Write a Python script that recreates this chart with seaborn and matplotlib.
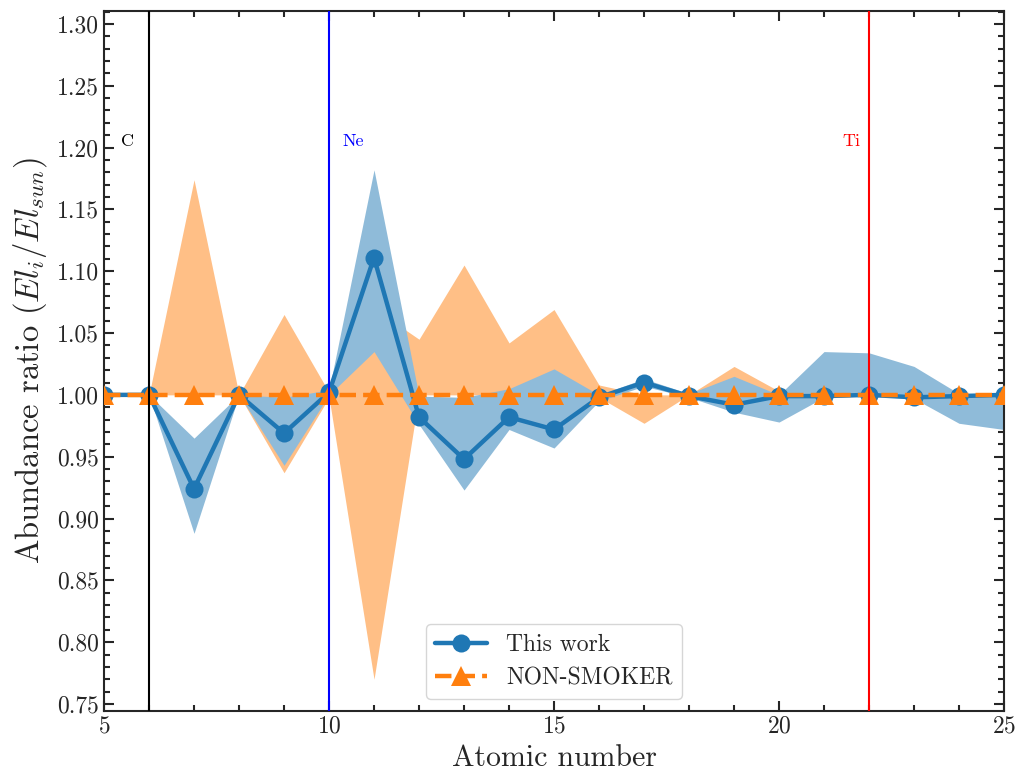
import numpy as np
import matplotlib
matplotlib.use("Agg")
import matplotlib.pyplot as plt
import seaborn as sns
from matplotlib.ticker import MultipleLocator

# atomic number
z = [5, 6, 7, 8, 9, 10, 11, 12, 13, 14, 15, 16, 17, 18, 19, 20, 21, 22, 23, 24, 25]

# this work: ratio and band
tw = [1.000, 1.000, 0.924, 1.000, 0.969, 1.002, 1.111, 0.982, 0.948, 0.982, 0.972,
      0.998, 1.010, 0.999, 0.992, 0.999, 0.999, 1.000, 0.998, 0.999, 1.000]
tw_hi = [1.000, 1.000, 0.965, 1.000, 0.998, 1.004, 1.182, 0.999, 0.998, 1.005, 1.021,
         1.000, 1.013, 1.001, 1.015, 1.000, 1.035, 1.034, 1.023, 1.001, 1.000]
tw_lo = [1.000, 1.000, 0.888, 1.000, 0.943, 1.000, 1.035, 0.976, 0.923, 0.972, 0.957,
         0.995, 1.007, 0.998, 0.986, 0.978, 0.998, 0.999, 0.997, 0.977, 0.972]

# NON-SMOKER: ratio and band
ns = [1.000, 1.000, 1.000, 1.000, 1.000, 1.000, 1.000, 1.000, 1.000, 1.000, 1.000,
      1.000, 1.000, 1.000, 1.000, 1.000, 1.000, 1.000, 1.000, 1.000, 1.000]
ns_hi = [1.000, 1.000, 1.174, 1.000, 1.065, 1.002, 1.070, 1.045, 1.105, 1.042, 1.069,
         1.008, 1.000, 1.000, 1.023, 1.003, 1.000, 1.000, 1.000, 1.000, 1.000]
ns_lo = [1.000, 1.000, 1.000, 1.000, 0.937, 0.998, 0.770, 1.000, 1.000, 1.000, 1.000,
         0.998, 0.977, 1.000, 1.000, 1.000, 1.000, 1.000, 1.000, 1.000, 1.000]

# marked elements
el_z = [6, 10, 22]
el_name = ["C", "Ne", "Ti"]
el_col = ["black", "blue", "red"]
el_tx = [5.53, 10.53, 21.6]

sns.set_style("ticks")
plt.rcParams["font.family"] = "serif"
plt.rcParams["font.serif"] = ["cmr10", "DejaVu Serif"]
plt.rcParams["mathtext.fontset"] = "cm"
plt.rcParams["axes.formatter.use_mathtext"] = True

fig = plt.figure(figsize=(10.16, 7.72), dpi=100)
ax = fig.add_axes([0.1024, 0.079, 0.8858, 0.9068])

ax.fill_between(z, ns_lo, ns_hi, color="#ffbf86", lw=0, zorder=1)
ax.fill_between(z, tw_lo, tw_hi, color="#8fbbd9", lw=0, zorder=2)

sns.lineplot(x=z, y=tw, ax=ax, color="#1f77b4", marker="o", markersize=13,
             markeredgewidth=0, linewidth=3.2, label="This work", zorder=3)
sns.lineplot(x=z, y=ns, ax=ax, color="#ff7f0e", marker="^", markersize=14,
             markeredgewidth=0, linewidth=3.2, linestyle="--", label="NON-SMOKER", zorder=4)

for zz, nm, c, tx in zip(el_z, el_name, el_col, el_tx):
    ax.axvline(zz, color=c, lw=1.5, zorder=5)
    ax.text(tx, 1.205, nm, color=c, fontsize=13, ha="center", va="center")

ax.set_xlim(5, 25)
ax.set_ylim(0.7443, 1.3105)
ax.xaxis.set_major_locator(MultipleLocator(5))
ax.xaxis.set_minor_locator(MultipleLocator(1))
ax.yaxis.set_major_locator(MultipleLocator(0.05))
ax.yaxis.set_minor_locator(MultipleLocator(0.01))
ax.yaxis.set_major_formatter(matplotlib.ticker.FormatStrFormatter("%.2f"))
ax.tick_params(which="both", direction="in", top=True, right=True, labelsize=17, width=1.5)
ax.tick_params(which="major", length=7)
ax.tick_params(which="minor", length=4)
for s in ax.spines.values():
    s.set_linewidth(1.5)

ax.set_xlabel("Atomic number", fontsize=21.5, labelpad=5)
ax.set_ylabel("Abundance ratio ($El_i/El_{sun}$)", fontsize=23.5, labelpad=6)

ax.legend(loc="lower center", fontsize=17, handlelength=2.2, frameon=True)

fig.savefig("out.png", dpi=100)
